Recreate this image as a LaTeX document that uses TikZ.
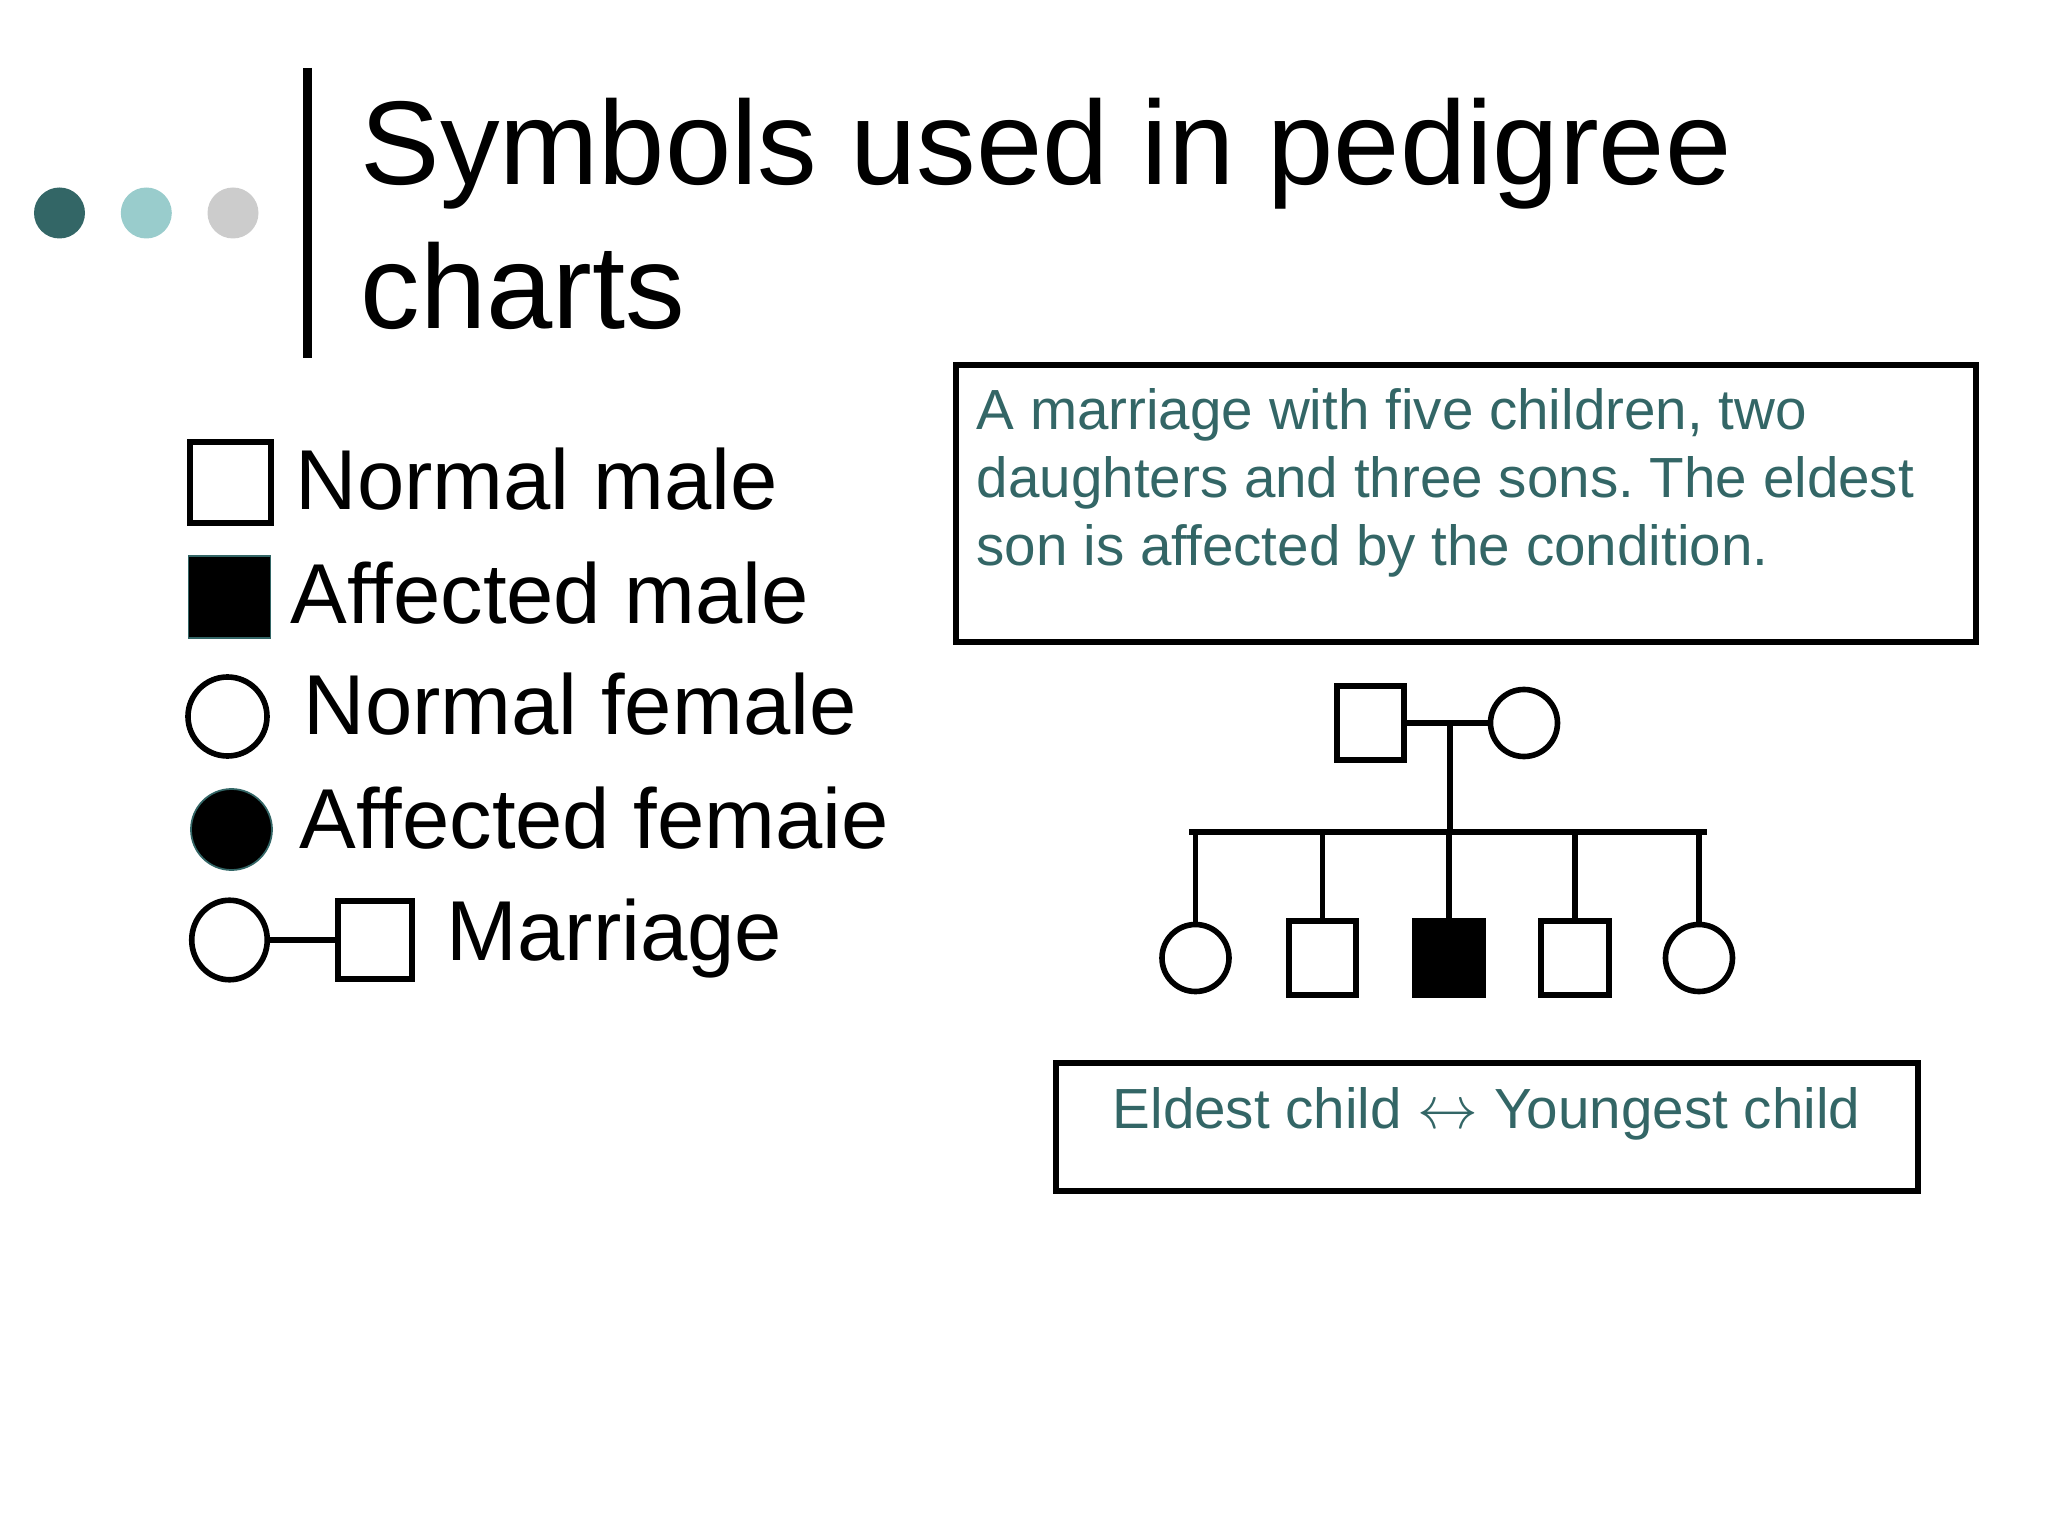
\documentclass[tikz,border=0pt]{standalone}
\usepackage{fontspec}
\setmainfont{Liberation Sans}
\usetikzlibrary{shapes.geometric,positioning}
\frenchspacing

\definecolor{slateteal}{HTML}{336666}
\definecolor{paleteal}{HTML}{99CCCC}
\definecolor{palegray}{HTML}{CCCCCC}

\tikzset{
  male/.style={draw, rectangle, line width=1.6pt, minimum width=0.675cm, minimum height=0.745cm, inner sep=0pt},
  female/.style={draw, ellipse, line width=1.6pt, minimum width=0.67cm, minimum height=0.67cm, inner sep=0pt},
  affmale/.style={male, fill=black},
  legaffected/.style={fill=black, draw=slateteal, line width=0.5pt},
  kin/.style={line width=1.6pt},
  legtext/.style={anchor=base west, inner sep=0pt, font=\fontsize{24.2}{29}\selectfont},
  note/.style={inner sep=0pt, text=slateteal, align=left, font=\fontsize{16.1}{19.35}\selectfont},
  notebox/.style={draw, line width=1.7pt, inner sep=0pt}
}

\begin{document}
\begin{tikzpicture}[x=1cm, y=-1cm]
      \useasboundingbox (0,0) rectangle (20.48,15.36);

      % Title bullets and bar
      \foreach \x/\c in {0.595/slateteal, 1.463/paleteal, 2.33/palegray}{
          \fill[\c] (\x,2.13) circle (0.255);
        }
      \draw[line width=0.093cm] (3.073,0.68) -- (3.073,3.58);
      \node[anchor=base west, inner sep=0pt, align=left, font=\fontsize{33.9}{41}\selectfont] (title) at (3.60,3.29) {Symbols used in pedigree\\charts};

      % Legend
      \node[male, minimum size=0.81cm] (nmale) at (2.305,4.825) {};
      \node[legtext] (nmaletext) at (2.95,5.10) {Normal male};

      \node[rectangle, legaffected, minimum size=0.82cm, inner sep=0pt] (amale) at (2.295,5.97) {};
      \node[legtext] (amaletext) at (2.90,6.23) {Affected male};

      \node[female, minimum size=0.79cm] (nfemale) at (2.275,7.165) {};
      \node[legtext] (nfemaletext) at (3.03,7.35) {Normal female};

      \node[ellipse, legaffected, minimum size=0.81cm, inner sep=0pt] (afemale) at (2.315,8.295) {};
      \node[legtext] (afemaletext) at (2.99,8.48) {Affected femaie};

      \node[female, minimum width=0.755cm, minimum height=0.795cm] (wife) at (2.295,9.40) {};
      \node[male, minimum width=0.745cm, minimum height=0.785cm] (husband) at (3.75,9.40) {};
      \draw[kin] (wife.east) -- (husband.west);
      \node[legtext] (marriagetext) at (4.46,9.60) {Marriage};

      % Description box
      \node[notebox, minimum width=10.20cm, minimum height=2.77cm] (descbox) at (14.66,5.035) {};
      \node[note, anchor=base west] (desc) at (9.76,5.66) {A marriage with five children, two\\daughters and three sons. The eldest\\son is affected by the condition.};

      % Parents
      \node[male] (father) at (13.705,7.23) {};
      \node[female] (mother) at (15.24,7.23) {};
      \draw[kin] (father.east) -- (mother.west);
      \coordinate (union) at (14.50,7.23);
      \coordinate (sibL) at (11.92,8.32);
      \coordinate (sibR) at (17.04,8.32);
      \draw[kin] (union) -- (union |- sibL);
      \draw[kin, line cap=rect] (sibL) -- (sibR);

      % Children, eldest to youngest
      \foreach \x/\kind/\nm in {11.955/female/eldest, 13.225/male/second, 14.49/affmale/third, 15.75/male/fourth, 16.99/female/youngest}{
          \node[\kind] (\nm) at (\x,9.58) {};
          \draw[kin] (\nm.north) -- (\nm.north |- sibL);
        }

      % Order box
      \node[notebox, minimum width=8.62cm, minimum height=1.28cm] (orderbox) at (14.87,11.27) {};
      \node[note, anchor=base] (order) at (14.865,11.29) {Eldest child $\leftrightarrow$ Youngest child};

    \end{tikzpicture}
\end{document}
